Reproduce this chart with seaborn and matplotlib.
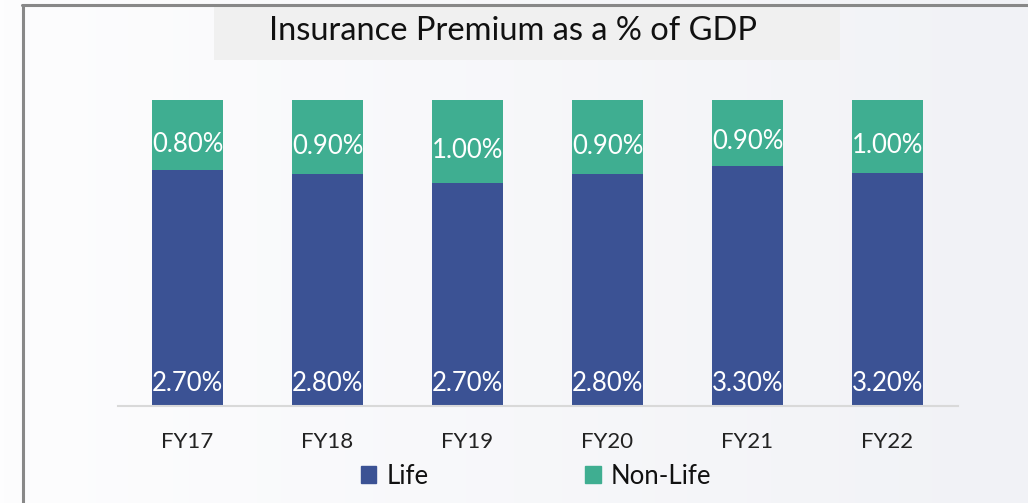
import numpy as np
import pandas as pd
import seaborn as sns
import matplotlib.pyplot as plt
from matplotlib.patches import Rectangle, Patch
from matplotlib.lines import Line2D
from matplotlib.colors import LinearSegmentedColormap

# Data (% of GDP)
years = ["FY17", "FY18", "FY19", "FY20", "FY21", "FY22"]
life = [2.7, 2.8, 2.7, 2.8, 3.3, 3.2]
non_life = [0.8, 0.9, 1.0, 0.9, 0.9, 1.0]

BLUE = "#3b5294"
GREEN = "#3fae91"

df = pd.DataFrame({"year": years, "life": life, "non_life": non_life})
df["total"] = df["life"] + df["non_life"]
df["life_share"] = df["life"] / df["total"]   # 100% stacked
df["full"] = 1.0

sns.set_theme(style="white")
plt.rcParams["font.family"] = ["Lato", "DejaVu Sans"]

W, H = 1028, 503
fig = plt.figure(figsize=(W / 100, H / 100), dpi=100)

# soft gradient background
bg = fig.add_axes([0, 0, 1, 1], zorder=-10)
grad = np.linspace(0, 1, 256).reshape(1, -1)
cmap = LinearSegmentedColormap.from_list("bg", ["#fdfdfe", "#f1f2f6"])
bg.imshow(grad, aspect="auto", cmap=cmap, extent=[0, 1, 0, 1])
bg.set_axis_off()

# frame (left + top grey border) and title box
fig.add_artist(Line2D([22.5 / W, 22.5 / W], [0, (H - 5) / H], transform=fig.transFigure,
                      color="#888888", linewidth=2.2, zorder=5))
fig.add_artist(Line2D([21.5 / W, 1], [(H - 5) / H, (H - 5) / H], transform=fig.transFigure,
                      color="#888888", linewidth=2.2, zorder=5))
fig.patches.append(Rectangle((214 / W, (H - 60) / H), (840 - 214) / W, 54 / H,
                             transform=fig.transFigure, facecolor="#f0f0f0",
                             edgecolor="none", zorder=1))
fig.text(513 / W, (H - 31) / H, "Insurance Premium as a % of GDP", ha="center", va="center",
         fontsize=23.5, color="#111111", zorder=6)

ax = fig.add_axes([117.5 / W, (H - 406) / H, 840 / W, 306 / H])
ax.patch.set_alpha(0)

sns.barplot(data=df, x="year", y="full", color=GREEN, width=0.507, ax=ax,
            saturation=1, edgecolor="none")
sns.barplot(data=df, x="year", y="life_share", color=BLUE, width=0.507, ax=ax,
            saturation=1, edgecolor="none")

ax.set_ylim(0, 1)
ax.set_xlim(-0.5, len(years) - 0.5)
ax.set_xlabel("")
ax.set_ylabel("")
ax.set_yticks([])
ax.tick_params(axis="x", length=0, labelsize=16, pad=19, labelcolor="#222222")
for side in ["top", "right", "left"]:
    ax.spines[side].set_visible(False)
ax.spines["bottom"].set_color("#d9d9d9")
ax.spines["bottom"].set_linewidth(1.5)

# labels
for i, row in df.iterrows():
    ax.text(i, 0.05, f"{row['life']:.2f}%", ha="center", va="baseline",
            color="white", fontsize=18.5)
    ax.text(i, (row["life_share"] + 1) / 2 - 0.03, f"{row['non_life']:.2f}%", ha="center",
            va="center", color="white", fontsize=18.5)

handles = [Patch(color=BLUE, label="Life"), Patch(color=GREEN, label="Non-Life")]
fig.legend(handles=handles, loc="center", bbox_to_anchor=(536 / W, (H - 476) / H), ncol=2,
           frameon=False, fontsize=18.5, handlelength=0.6, handleheight=0.6,
           handletextpad=0.4, columnspacing=6.1, labelcolor="#111111")

fig.savefig("out.png", dpi=100)
